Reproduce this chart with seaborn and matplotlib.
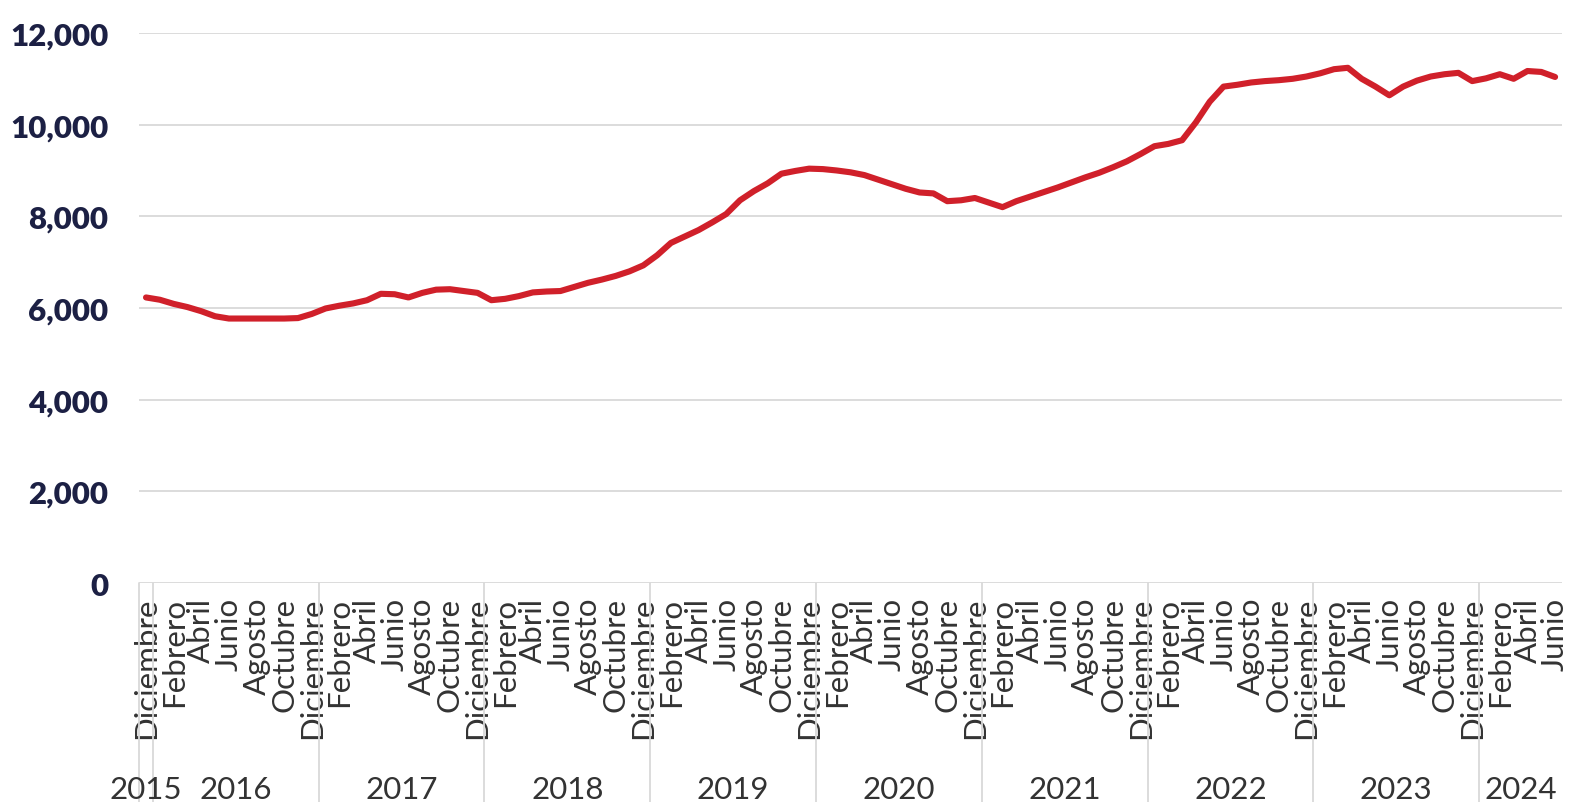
import matplotlib
matplotlib.use('Agg')
import matplotlib.pyplot as plt
import matplotlib.transforms as mtransforms
from matplotlib.ticker import FuncFormatter
import seaborn as sns
import pandas as pd

# Month names (Spanish) and the series, monthly from Dec 2015 to Jun 2024
meses = ['Enero', 'Febrero', 'Marzo', 'Abril', 'Mayo', 'Junio', 'Julio',
         'Agosto', 'Septiembre', 'Octubre', 'Noviembre', 'Diciembre']
anios = ['2015', '2016', '2017', '2018', '2019', '2020', '2021', '2022', '2023', '2024']
meses_por_anio = [1, 12, 12, 12, 12, 12, 12, 12, 12, 6]

valores = [
    6230,                                                                    # 2015 Dic
    6180, 6090, 6020, 5930, 5820, 5770, 5770, 5770, 5770, 5770, 5780, 5870,  # 2016
    5990, 6050, 6100, 6170, 6310, 6300, 6230, 6330, 6400, 6410, 6370, 6330,  # 2017
    6170, 6200, 6260, 6340, 6360, 6370, 6460, 6550, 6620, 6700, 6800, 6930,  # 2018
    7150, 7420, 7560, 7700, 7870, 8050, 8350, 8550, 8720, 8930, 8990, 9040,  # 2019
    9030, 9000, 8960, 8900, 8800, 8700, 8600, 8520, 8500, 8330, 8350, 8400,  # 2020
    8300, 8200, 8330, 8430, 8530, 8630, 8740, 8850, 8950, 9070, 9200, 9360,  # 2021
    9530, 9580, 9660, 10050, 10500, 10830, 10870, 10920, 10950, 10970, 11000, 11050,  # 2022
    11120, 11210, 11240, 11000, 10830, 10640, 10830, 10960, 11050, 11100, 11130, 10950,  # 2023
    11010, 11100, 11000, 11170, 11150, 11040,                                # 2024
]

# month number (0-11) of each point, starting in December
mes_idx = [(11 + i) % 12 for i in range(len(valores))]
df = pd.DataFrame({'idx': range(len(valores)), 'valor': valores})

sns.set_style('white')
plt.rcParams['font.family'] = ['Lato', 'DejaVu Sans']

fig, ax = plt.subplots(figsize=(15.7, 8.03), dpi=100)
fig.subplots_adjust(left=0.0886, right=0.9949, bottom=0.2727, top=0.9577)

sns.lineplot(data=df, x='idx', y='valor', color='#d0202a', linewidth=4.4, ax=ax)

ax.set_xlim(-0.5, len(valores) - 0.5)
ax.set_ylim(0, 12000)
ax.set_yticks(range(0, 12001, 2000))
ax.yaxis.set_major_formatter(FuncFormatter(lambda v, p: f'{int(v):,}'))
ax.grid(axis='y', color='#d9d9d9', linewidth=1.3)
ax.grid(axis='x', visible=False)
for s in ax.spines.values():
    s.set_visible(False)
ax.set_xlabel('')
ax.set_ylabel('')

ticks = list(range(0, len(valores), 2))
ax.set_xticks(ticks)
ax.set_xticklabels([meses[mes_idx[t]] for t in ticks], rotation=90, va='top', ha='center')
ax.tick_params(axis='x', length=0, pad=10, labelsize=22.5, labelcolor='#333333')
ax.tick_params(axis='y', length=0, pad=22, labelsize=22.5, labelcolor='#1c2044')
for lab in ax.get_yticklabels():
    lab.set_fontweight('heavy')

# year groups below the month labels
trans = mtransforms.blended_transform_factory(ax.transData, ax.transAxes)
inicio = 0
for anio, n in zip(anios, meses_por_anio):
    ax.plot([inicio - 0.5, inicio - 0.5], [0, -0.6], transform=trans, clip_on=False,
            color='#d9d9d9', linewidth=1.3)
    ax.text(inicio + (n - 1) / 2, -0.3915, anio, transform=trans, ha='center', va='baseline',
            fontsize=22.5, color='#333333')
    inicio += n

fig.savefig('out.png', dpi=100)
